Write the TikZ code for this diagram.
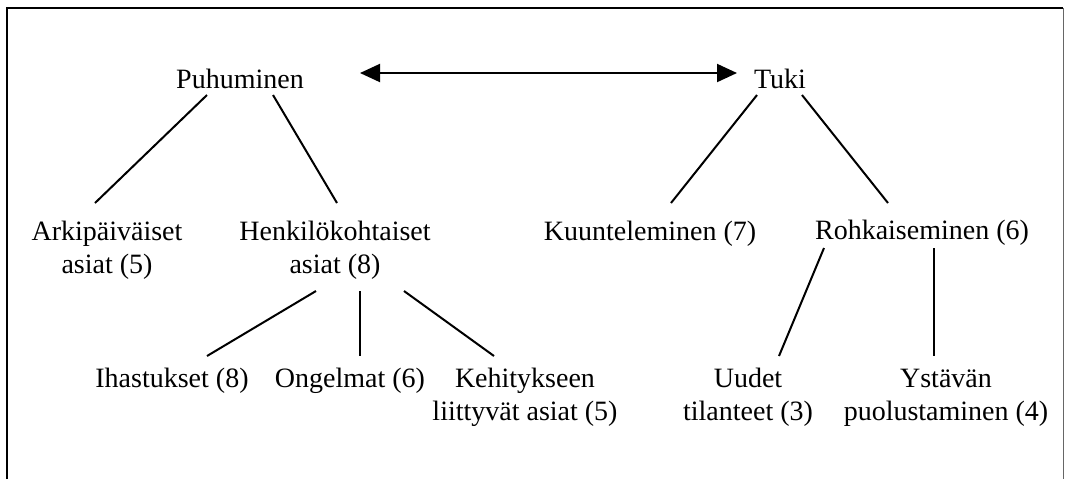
\documentclass[tikz,border=0pt]{standalone}
\usepackage{fontspec}
\setmainfont{Liberation Serif}
\usetikzlibrary{arrows.meta}
\begin{document}
\begin{tikzpicture}[x=0.5pt,y=-0.5pt]
\tikzstyle{arrow} = [line width=1pt, {Triangle[length=10pt,width=9pt]}-{Triangle[length=10pt,width=9pt]}]
\tikzstyle{branch} = [line width=1pt, -]
\tikzstyle{word} = [inner sep=0pt, anchor=base, align=center, font=\fontsize{14}{16.5}\selectfont]
\useasboundingbox (0,0) rectangle (1065,479);
% frame, open at the bottom
\draw[line width=1pt] (7,479) -- (7,8) -- (1063,8);
\draw[line width=0.5pt, black!60] (1063,8) -- (1063,479);
\node[word] (Puhuminen) at (240,88) {Puhuminen};
\node[word] (Tuki) at (780,88) {Tuki};
\node[word] (arkiAsiat) at (107,273) {Arkipäiväiset\\asiat (5)};
\node[word] (henkAsiat) at (335,273) {Henkilökohtaiset\\asiat (8)};
\node[word] (Kuunteleminen) at (650,240) {Kuunteleminen (7)};
\node[word] (Rohkaiseminen) at (922,239) {Rohkaiseminen (6)};
\node[word] (Ihastukset) at (172,387) {Ihastukset (8)};
\node[word] (Ongelmat) at (350,387) {Ongelmat (6)};
\node[word] (Kehitys) at (525,420) {Kehitykseen\\liittyvät asiat (5)};
\node[word] (Uudet) at (748,420) {Uudet\\tilanteet (3)};
\node[word] (Ystava) at (946,420) {Ystävän\\puolustaminen (4)};
\draw[arrow] ([shift={(120,-15)}]Puhuminen.base)--([shift={(-43,-15)}]Tuki.base);
\draw[branch] ([shift={(-33,7)}]Puhuminen.base)--([shift={(-12,-70)}]arkiAsiat.base);
\draw[branch] ([shift={(33,7)}]Puhuminen.base)--([shift={(2,-70)}]henkAsiat.base);
\draw[branch] ([shift={(-23,7)}]Tuki.base)--([shift={(21,-37)}]Kuunteleminen.base);
\draw[branch] ([shift={(22,7)}]Tuki.base)--([shift={(-34,-36)}]Rohkaiseminen.base);
\draw[branch] ([shift={(-19,18)}]henkAsiat.base)--([shift={(35,-31)}]Ihastukset.base);
\draw[branch] ([shift={(25,18)}]henkAsiat.base)--([shift={(10,-31)}]Ongelmat.base);
\draw[branch] ([shift={(69,18)}]henkAsiat.base)--([shift={(-31,-64)}]Kehitys.base);
\draw[branch] ([shift={(-98,9)}]Rohkaiseminen.base)--([shift={(31,-64)}]Uudet.base);
\draw[branch] ([shift={(12,9)}]Rohkaiseminen.base)--([shift={(-12,-64)}]Ystava.base);
\end{tikzpicture}
\end{document}
